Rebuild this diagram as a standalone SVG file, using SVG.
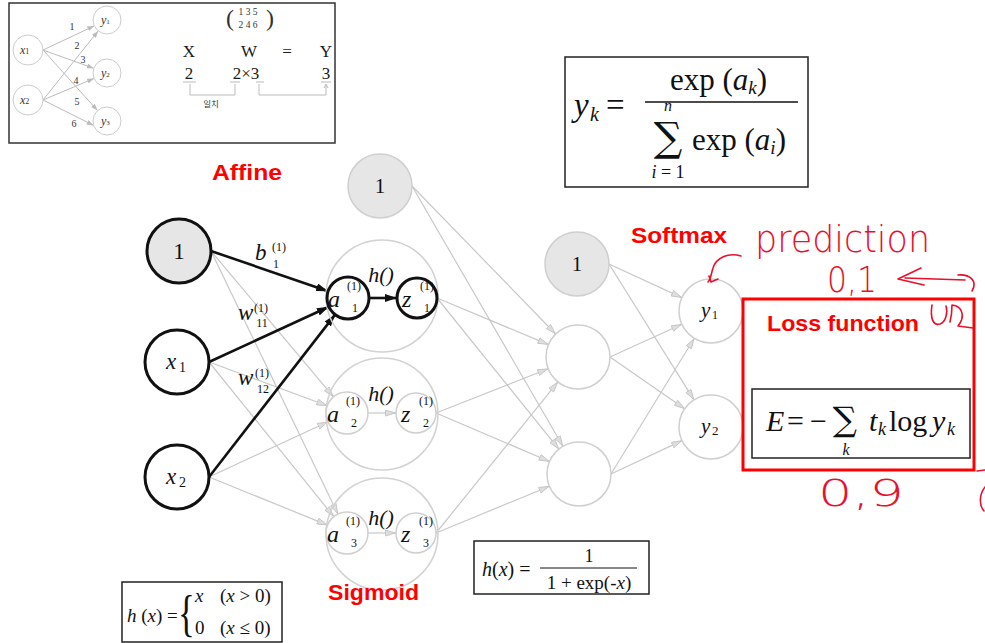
<svg xmlns="http://www.w3.org/2000/svg" width="985" height="643" viewBox="0 0 985 643">
<style>
.m{font-family:"Liberation Serif",serif;fill:#111}
.i{font-style:italic}
.nb{fill:#fff;stroke:#111;stroke-width:3}
.ng{fill:#e6e6e6;stroke:#111;stroke-width:3}
.lg{fill:#fff;stroke:#cfcfcf;stroke-width:1.5}
.lgf{fill:#e6e6e6;stroke:#cfcfcf;stroke-width:1.5}
.big{fill:none;stroke:#d2d2d2;stroke-width:1.5}
.gl{stroke:#c8c8c8;stroke-width:1.2;fill:none;marker-end:url(#ag)}
.bl{stroke:#111;stroke-width:2.6;fill:none;marker-end:url(#ab)}
.red{font-family:"Liberation Sans",sans-serif;font-weight:bold;fill:#f00}
.hw{font-family:"DejaVu Sans",sans-serif;font-weight:200;fill:#e8102a}
.hp{fill:none;stroke:#e8102a;stroke-width:1.6;stroke-linecap:round;stroke-linejoin:round}
.box{fill:#fff;stroke:#222;stroke-width:1.5}
.sm{font-family:"Liberation Serif",serif;fill:#333}
.sl{stroke:#bbb;stroke-width:1;fill:none;marker-end:url(#as)}
.sig{font-family:"DejaVu Serif",serif;fill:#111}
</style>
<defs>
<marker id="ab" viewBox="0 0 12 8" refX="12" refY="4" markerWidth="12" markerHeight="8" markerUnits="userSpaceOnUse" orient="auto"><path d="M0,0 L12,4 L0,8 Z" fill="#111"/></marker>
<marker id="ag" viewBox="0 0 11 7" refX="11" refY="3.5" markerWidth="11" markerHeight="7" markerUnits="userSpaceOnUse" orient="auto"><path d="M0.5,0.5 L10.5,3.5 L0.5,6.5 Z" fill="#dedede" stroke="#c0c0c0" stroke-width="0.8"/></marker>
<marker id="as" viewBox="0 0 7 5" refX="7" refY="2.5" markerWidth="7" markerHeight="5" markerUnits="userSpaceOnUse" orient="auto"><path d="M0,0 L7,2.5 L0,5 Z" fill="#bbb"/></marker>
</defs>
<rect width="985" height="643" fill="#fff"/>

<!-- top-left inset -->
<g id="inset">
<rect x="9" y="3" width="326" height="140" fill="#fff" stroke="#333" stroke-width="1.5"/>
<g>
<line class="sl" x1="43" y1="50" x2="94.3" y2="25.9"/>
<line class="sl" x1="43" y1="50" x2="93.8" y2="68.3"/>
<line class="sl" x1="43" y1="50" x2="97.6" y2="110.6"/>
<line class="sl" x1="43" y1="100" x2="98.2" y2="30.9"/>
<line class="sl" x1="43" y1="100" x2="94.1" y2="78.4"/>
<line class="sl" x1="43" y1="100" x2="93.7" y2="125.4"/>
</g>
<circle cx="28" cy="50" r="15" fill="#fff" stroke="#ccc"/>
<circle cx="28" cy="100" r="15" fill="#fff" stroke="#ccc"/>
<circle cx="107" cy="20" r="14" fill="#fff" stroke="#ccc"/>
<circle cx="107" cy="73" r="14" fill="#fff" stroke="#ccc"/>
<circle cx="107" cy="121" r="14" fill="#fff" stroke="#ccc"/>
<text class="sm" x="20" y="54" font-size="12"><tspan class="i">x</tspan><tspan font-size="8">1</tspan></text>
<text class="sm" x="20" y="104" font-size="12"><tspan class="i">x</tspan><tspan font-size="8">2</tspan></text>
<text class="sm" x="101" y="24" font-size="12"><tspan class="i">y</tspan><tspan font-size="7">1</tspan></text>
<text class="sm" x="101" y="77" font-size="12"><tspan class="i">y</tspan><tspan font-size="7">2</tspan></text>
<text class="sm" x="101" y="125" font-size="12"><tspan class="i">y</tspan><tspan font-size="7">3</tspan></text>
<g class="sm" font-size="10" text-anchor="middle">
<text x="72" y="30">1</text><text x="77" y="49">2</text><text x="83" y="63">3</text>
<text x="76" y="84">4</text><text x="77" y="105">5</text><text x="74" y="127">6</text>
</g>
<text class="sm" x="226" y="26" font-size="24">(</text>
<text class="sm" x="266" y="26" font-size="24">)</text>
<text class="sm" x="248" y="15" font-size="9.5" text-anchor="middle">1 3 5</text>
<text class="sm" x="248" y="28" font-size="9.5" text-anchor="middle">2 4 6</text>
<g class="sm" font-size="17" text-anchor="middle" style="fill:#1a1a1a">
<text x="189" y="57">X</text><text x="249" y="57">W</text><text x="287" y="57">=</text><text x="326" y="57">Y</text>
<text x="189" y="79">2</text><text x="246" y="79">2×3</text><text x="326" y="79">3</text>
</g>
<g stroke="#bbb" stroke-width="1" fill="none">
<line x1="183" y1="82" x2="196" y2="82"/><line x1="230" y1="82" x2="240" y2="82"/>
<line x1="256" y1="82" x2="264" y2="82"/><line x1="321" y1="82" x2="331" y2="82"/>
<path d="M190,84 V95 H235 V84"/>
<path d="M259,84 V95 H326 V85"/>
<path d="M324,88 L326,84 L328,88"/>
</g>
<text x="211" y="107" font-size="8.5" text-anchor="middle" fill="#333" font-family="'Noto Sans CJK KR',sans-serif">일치</text>
</g>

<!-- softmax formula -->
<g id="softmax-formula">
<rect class="box" x="565" y="57" width="243" height="130"/>
<text class="m" font-size="33"><tspan class="i" x="574" y="116">y</tspan><tspan class="i" font-size="20" x="590" y="121">k</tspan><tspan x="606" y="116">=</tspan></text>
<line x1="645" y1="102" x2="798" y2="102" stroke="#111" stroke-width="1.5"/>
<text class="m" font-size="31" x="670" y="90">exp (<tspan class="i">a</tspan><tspan class="i" font-size="19" dy="4">k</tspan><tspan dy="-4">)</tspan></text>
<text class="m" font-size="16" x="668" y="111" text-anchor="middle"><tspan class="i">n</tspan></text>
<text class="sig" font-size="40" x="668" y="151" text-anchor="middle">∑</text>
<text class="m" font-size="18" x="668" y="178" text-anchor="middle"><tspan class="i">i</tspan> = 1</text>
<text class="m" font-size="31" x="692" y="150">exp (<tspan class="i">a</tspan><tspan class="i" font-size="19" dy="4">i</tspan><tspan dy="-4">)</tspan></text>
</g>

<!-- connectors -->
<g id="connectors">
<line class="gl" x1="211" y1="251" x2="333.5" y2="396.9"/>
<line class="gl" x1="211" y1="251" x2="337.9" y2="514.1"/>
<line class="gl" x1="209" y1="362" x2="327.3" y2="405.7"/>
<line class="gl" x1="209" y1="362" x2="333.8" y2="516.7"/>
<line class="gl" x1="209" y1="477" x2="328" y2="421.8"/>
<line class="gl" x1="209" y1="477" x2="327.5" y2="525.1"/>
<line class="bl" x1="211" y1="251" x2="328.1" y2="291.2"/>
<line class="bl" x1="209" y1="362" x2="328.9" y2="306.8"/>
<line class="bl" x1="209" y1="477" x2="335.1" y2="314.6"/>
<line class="bl" x1="369" y1="298" x2="397" y2="298"/>
<line class="gl" x1="368" y1="413" x2="396" y2="413"/>
<line class="gl" x1="368" y1="533" x2="396" y2="533"/>
<line class="gl" x1="412" y1="186" x2="555.7" y2="334"/>
<line class="gl" x1="412" y1="186" x2="562.9" y2="446.3"/>
<line class="gl" x1="437" y1="298" x2="548.5" y2="344.6"/>
<line class="gl" x1="437" y1="298" x2="558.9" y2="449.1"/>
<line class="gl" x1="436" y1="413" x2="548.2" y2="368.7"/>
<line class="gl" x1="436" y1="413" x2="549.6" y2="461.5"/>
<line class="gl" x1="436" y1="533" x2="557.9" y2="381.9"/>
<line class="gl" x1="436" y1="533" x2="549.4" y2="486.2"/>
<line class="gl" x1="609" y1="264" x2="681.9" y2="297.6"/>
<line class="gl" x1="609" y1="264" x2="694" y2="399.9"/>
<line class="gl" x1="610" y1="357" x2="681.9" y2="324.2"/>
<line class="gl" x1="610" y1="357" x2="684.7" y2="408.8"/>
<line class="gl" x1="611" y1="474" x2="694.3" y2="338.3"/>
<line class="gl" x1="611" y1="474" x2="682" y2="440.6"/>
</g>

<!-- input layer -->
<g id="in-bias"><circle class="ng" cx="179" cy="251" r="32"/><text class="m" x="179" y="259" font-size="23" text-anchor="middle">1</text></g>
<g id="in-x1"><circle class="nb" cx="177" cy="362" r="32"/><text class="m" font-size="23"><tspan class="i" x="166" y="369">x</tspan><tspan font-size="14" x="179" y="372">1</tspan></text></g>
<g id="in-x2"><circle class="nb" cx="177" cy="477" r="32"/><text class="m" font-size="23"><tspan class="i" x="166" y="484">x</tspan><tspan font-size="14" x="179" y="487">2</tspan></text></g>

<!-- weight labels -->
<g id="w-labels" class="m">
<text class="i" x="255" y="260" font-size="23">b</text>
<text x="279" y="251" font-size="12" text-anchor="middle">(1)</text>
<text x="276" y="268" font-size="12" text-anchor="middle">1</text>
<text class="i" x="238" y="320" font-size="23">w</text>
<text x="261" y="312" font-size="12" text-anchor="middle">(1)</text>
<text x="262" y="327" font-size="12" text-anchor="middle">11</text>
<text class="i" x="238" y="385" font-size="23">w</text>
<text x="262" y="377" font-size="12" text-anchor="middle">(1)</text>
<text x="263" y="393" font-size="12" text-anchor="middle">12</text>
</g>

<!-- hidden layer 1 -->
<g id="h1-bias"><circle class="lgf" cx="380" cy="186" r="32"/><text class="m" x="380" y="193" font-size="21" text-anchor="middle">1</text></g>
<g id="h1-n1">
<circle class="big" cx="382" cy="296" r="56"/>
<text class="m i" x="381" y="282" font-size="22" text-anchor="middle">h()</text>
<circle class="nb" cx="348" cy="298" r="21"/>
<text class="m i" x="328" y="307" font-size="24">a</text><text class="m" x="354" y="290" font-size="12" text-anchor="middle">(1)</text><text class="m" x="355" y="312" font-size="12" text-anchor="middle">1</text>
<circle class="nb" cx="417" cy="298" r="20"/>
<text class="m i" x="402" y="307" font-size="24">z</text><text class="m" x="427" y="290" font-size="12" text-anchor="middle">(1)</text><text class="m" x="427" y="312" font-size="12" text-anchor="middle">1</text>
</g>
<g id="h1-n2">
<circle class="big" cx="382" cy="414" r="56"/>
<text class="m i" x="381" y="401" font-size="22" text-anchor="middle">h()</text>
<circle class="lg" cx="347" cy="413" r="21"/>
<text class="m i" x="327" y="422" font-size="24">a</text><text class="m" x="353" y="405" font-size="12" text-anchor="middle">(1)</text><text class="m" x="354" y="427" font-size="12" text-anchor="middle">2</text>
<circle class="lg" cx="416" cy="413" r="20"/>
<text class="m i" x="401" y="422" font-size="24">z</text><text class="m" x="426" y="405" font-size="12" text-anchor="middle">(1)</text><text class="m" x="426" y="427" font-size="12" text-anchor="middle">2</text>
</g>
<g id="h1-n3">
<circle class="big" cx="382" cy="534" r="56"/>
<text class="m i" x="381" y="525" font-size="22" text-anchor="middle">h()</text>
<circle class="lg" cx="347" cy="533" r="21"/>
<text class="m i" x="327" y="542" font-size="24">a</text><text class="m" x="353" y="525" font-size="12" text-anchor="middle">(1)</text><text class="m" x="354" y="547" font-size="12" text-anchor="middle">3</text>
<circle class="lg" cx="416" cy="533" r="20"/>
<text class="m i" x="401" y="542" font-size="24">z</text><text class="m" x="426" y="525" font-size="12" text-anchor="middle">(1)</text><text class="m" x="426" y="547" font-size="12" text-anchor="middle">3</text>
</g>

<!-- hidden layer 2 -->
<g id="h2-bias"><circle class="lgf" cx="577" cy="264" r="32"/><text class="m" x="577" y="271" font-size="21" text-anchor="middle">1</text></g>
<g id="h2-n1"><circle class="lg" cx="578" cy="357" r="32"/></g>
<g id="h2-n2"><circle class="lg" cx="579" cy="474" r="32"/></g>

<!-- output -->
<g id="out-y1"><circle class="lg" cx="711" cy="311" r="32"/><text class="m" font-size="21"><tspan class="i" x="701" y="317">y</tspan><tspan font-size="12" x="712" y="319">1</tspan></text></g>
<g id="out-y2"><circle class="lg" cx="711" cy="427" r="32"/><text class="m" font-size="21"><tspan class="i" x="701" y="433">y</tspan><tspan font-size="13" x="712" y="435">2</tspan></text></g>

<!-- red labels -->
<text class="red" x="212" y="180" font-size="22" textLength="70" lengthAdjust="spacingAndGlyphs">Affine</text>
<text class="red" x="631" y="243" font-size="22" textLength="96" lengthAdjust="spacingAndGlyphs">Softmax</text>
<text class="red" x="328" y="600" font-size="22" textLength="91" lengthAdjust="spacingAndGlyphs">Sigmoid</text>

<!-- loss box -->
<g id="loss">
<rect x="743" y="299" width="231" height="171" fill="none" stroke="#f00" stroke-width="3"/>
<text class="red" x="767" y="331" font-size="22" textLength="152" lengthAdjust="spacingAndGlyphs">Loss function</text>
<rect x="752" y="389" width="218" height="69" fill="#fff" stroke="#222" stroke-width="1.5"/>
<text class="m" font-size="30"><tspan class="i" x="766" y="431">E</tspan><tspan x="787" y="431">=</tspan><tspan x="810" y="431">−</tspan></text>
<text class="sig" font-size="34" x="845" y="431" text-anchor="middle">∑</text>
<text class="m i" x="846" y="455" font-size="16" text-anchor="middle">k</text>
<text class="m" font-size="30"><tspan class="i" x="869" y="431">t</tspan><tspan class="i" font-size="18" x="878" y="435">k</tspan><tspan x="889" y="431">log</tspan><tspan class="i" x="932" y="431">y</tspan><tspan class="i" font-size="18" x="947" y="435">k</tspan></text>
</g>

<!-- relu box -->
<g id="relu">
<rect class="box" x="122" y="582" width="160" height="60"/>
<text class="m" font-size="19" x="127" y="622"><tspan class="i">h</tspan> (<tspan class="i">x</tspan>) =</text>
<text class="m" font-size="50" x="178" y="630" transform="translate(178 0) scale(0.7 1) translate(-178 0)">{</text>
<text class="m" font-size="19" x="195" y="602"><tspan class="i">x</tspan><tspan x="220">(<tspan class="i">x</tspan> &gt; 0)</tspan></text>
<text class="m" font-size="19" x="195" y="634">0<tspan x="220">(<tspan class="i">x</tspan> ≤ 0)</tspan></text>
</g>

<!-- sigmoid box -->
<g id="sigmoid-formula">
<rect class="box" x="474" y="541" width="175" height="53"/>
<text class="m" font-size="20" x="482" y="576"><tspan class="i">h</tspan>(<tspan class="i">x</tspan>) =</text>
<line x1="540" y1="568" x2="637" y2="568" stroke="#111" stroke-width="1"/>
<text class="m" font-size="18" x="589" y="562" text-anchor="middle">1</text>
<text class="m" font-size="19" x="589" y="589" text-anchor="middle">1 + exp(-<tspan class="i">x</tspan>)</text>
</g>

<!-- handwriting -->
<g id="handwriting">
<text class="hw" x="755" y="252" font-size="38" textLength="175" lengthAdjust="spacingAndGlyphs">prediction</text>
<text class="hw" x="827" y="292" font-size="36" textLength="50" lengthAdjust="spacingAndGlyphs">0,1</text>
<text class="hw" x="818" y="506" font-size="38" textLength="86" lengthAdjust="spacingAndGlyphs">0,9</text>
<path class="hp" d="M741,256 C728,252 716,258 713,268 C711,274 711,279 708,282 M709,276 L711,282 L718,279"/>
<path class="hp" d="M921,268 L898,279 L924,285 M905,278 L965,280 M958,275 C970,274 978,281 972,291"/>
<path class="hp" d="M932,305 C930,318 933,326 940,324 C946,322 948,312 946,306 M950,322 C952,314 952,309 952,305 C962,306 966,316 958,326 L973,328"/>
<path class="hp" d="M985,487 C979,495 979,505 984,511 M977,471 L985,470"/>
</g>
</svg>
